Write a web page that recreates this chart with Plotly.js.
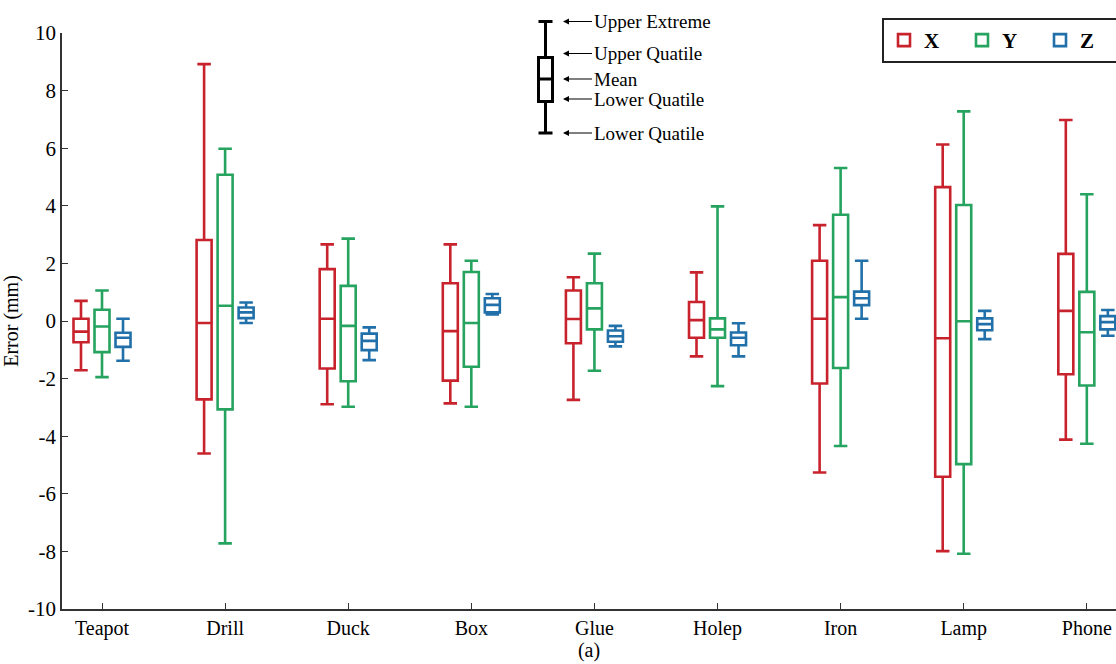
<!DOCTYPE html>
<html>
<head>
<meta charset="utf-8">
<script src="https://cdn.plot.ly/plotly-3.0.1.min.js"></script>
<style>
  html, body { margin: 0; padding: 0; background: #ffffff; }
  #chart { width: 1116px; height: 664px; }
</style>
</head>
<body>
<div id="chart"></div>
<script>
// ---- data ----
const categories = ['Teapot', 'Drill', 'Duck', 'Box', 'Glue', 'Holep', 'Iron', 'Lamp', 'Phone'];
const seriesNames = ['X', 'Y', 'Z'];

const xLower  = [-1.71, -4.60, -2.89, -2.86, -2.74, -1.23, -5.26, -7.99, -4.12];
const xQ1     = [-0.74, -2.72, -1.65, -2.07, -0.77, -0.58, -2.17, -5.41, -1.85];
const xMedian = [-0.37, -0.07,  0.08, -0.35,  0.07,  0.03,  0.08, -0.60,  0.35];
const xQ3     = [ 0.08,  2.81,  1.80,  1.31,  1.06,  0.66,  2.09,  4.65,  2.33];
const xUpper  = [ 0.70,  8.92,  2.66,  2.66,  1.52,  1.69,  3.33,  6.13,  6.98];

const yLower  = [-1.95, -7.72, -2.98, -2.98, -1.73, -2.26, -4.34, -8.08, -4.26];
const yQ1     = [-1.08, -3.07, -2.09, -1.59, -0.29, -0.58, -1.63, -4.97, -2.24];
const yMedian = [-0.19,  0.53, -0.17, -0.07,  0.44, -0.29,  0.83, -0.01, -0.39];
const yQ3     = [ 0.39,  5.08,  1.22,  1.70,  1.31,  0.09,  3.69,  4.03,  1.01];
const yUpper  = [ 1.06,  5.98,  2.86,  2.09,  2.34,  3.98,  5.31,  7.28,  4.40];

const zLower  = [-1.38, -0.07, -1.36,  0.23, -0.88, -1.23,  0.08, -0.63, -0.51];
const zQ1     = [-0.90,  0.10, -1.01,  0.30, -0.72, -0.84,  0.55, -0.32, -0.29];
const zMedian = [-0.58,  0.30, -0.69,  0.56, -0.53, -0.58,  0.79, -0.11, -0.04];
const zQ3     = [-0.41,  0.47, -0.44,  0.79, -0.33, -0.40,  1.02,  0.09,  0.17];
const zUpper  = [ 0.08,  0.64, -0.22,  0.94, -0.17, -0.08,  2.09,  0.35,  0.38];

const yTickVals = [-10, -8, -6, -4, -2, 0, 2, 4, 6, 8, 10];
const yTickText = yTickVals.map(v => String(v));   // ASCII hyphen minus, as in the reference
const keyLabels = ['Upper Extreme', 'Upper Quatile', 'Mean', 'Lower Quatile', 'Lower Quatile'];

// ---- styles ----
const colors = ['#C8232C', '#25A35F', '#2170AA'];
const FONT = 'Liberation Serif, Times New Roman, serif';

const stats = [
  [xLower, xQ1, xMedian, xQ3, xUpper],
  [yLower, yQ1, yMedian, yQ3, yUpper],
  [zLower, zQ1, zMedian, zQ3, zUpper]
];

const traces = seriesNames.map((name, i) => ({
  type: 'box',
  name: name,
  x: categories,
  lowerfence: stats[i][0],
  q1: stats[i][1],
  median: stats[i][2],
  q3: stats[i][3],
  upperfence: stats[i][4],
  boxpoints: false,
  whiskerwidth: 0.9,
  line: { color: colors[i], width: 2.6 },
  fillcolor: 'rgba(255,255,255,0)',
  hoverinfo: 'y'
}));

// ---- explanatory key (paper coordinates) ----
const px2x = p => (p - 62) / 1054;
const px2y = p => (609 - p) / 576;
const keyX0 = px2x(538.5), keyX1 = px2x(552.5), keyXc = px2x(545.5);
const keyCapTop = px2y(21.5), keyBoxTop = px2y(57.5), keyMean = px2y(79),
      keyBoxBot = px2y(101.5), keyCapBot = px2y(133);
const keyLine = { color: '#000000', width: 3 };
const shapes = [
  { type: 'line', xref: 'paper', yref: 'paper', x0: keyX0, x1: keyX1, y0: keyCapTop, y1: keyCapTop, line: keyLine },
  { type: 'line', xref: 'paper', yref: 'paper', x0: keyXc, x1: keyXc, y0: keyCapTop, y1: keyBoxTop, line: keyLine },
  { type: 'rect', xref: 'paper', yref: 'paper', x0: keyX0, x1: keyX1, y0: keyBoxBot, y1: keyBoxTop, line: keyLine, fillcolor: 'rgba(0,0,0,0)' },
  { type: 'line', xref: 'paper', yref: 'paper', x0: keyX0, x1: keyX1, y0: keyMean, y1: keyMean, line: keyLine },
  { type: 'line', xref: 'paper', yref: 'paper', x0: keyXc, x1: keyXc, y0: keyBoxBot, y1: keyCapBot, line: keyLine },
  { type: 'line', xref: 'paper', yref: 'paper', x0: keyX0, x1: keyX1, y0: keyCapBot, y1: keyCapBot, line: keyLine }
];
const keyArrowY = [px2y(21.5), px2y(53.5), px2y(79), px2y(99), px2y(133)];
const annotations = keyLabels.map((t, i) => ({
  xref: 'paper', yref: 'paper',
  x: px2x(563), y: keyArrowY[i],
  ax: 29, ay: 0,
  xanchor: 'left', yanchor: 'middle',
  text: t,
  showarrow: true,
  arrowhead: 2, arrowsize: 1, arrowwidth: 1.2, arrowcolor: '#000000',
  font: { family: FONT, size: 19, color: '#000000' }
}));

const layout = {
  width: 1116,
  height: 664,
  margin: { l: 62, r: 0, t: 33, b: 55, autoexpand: false },
  paper_bgcolor: '#ffffff',
  plot_bgcolor: '#ffffff',
  font: { family: FONT, size: 20, color: '#000000' },
  boxmode: 'group',
  boxgap: 0.488,
  boxgroupgap: 0.286,
  showlegend: true,
  legend: {
    orientation: 'h',
    x: px2x(882), y: px2y(18),
    xanchor: 'left', yanchor: 'top',
    bgcolor: '#ffffff',
    bordercolor: '#222222',
    borderwidth: 2,
    itemwidth: 30,
    entrywidthmode: 'pixels',
    entrywidth: 33,
    font: { family: FONT, size: 21, color: '#000000', weight: 'bold' }
  },
  xaxis: {
    type: 'category',
    range: [-0.325, 8.237],
    showline: true, linecolor: '#333333', linewidth: 1.5,
    ticks: 'inside', ticklen: 6, tickcolor: '#333333', tickwidth: 1,
    showgrid: false, zeroline: false,
    tickfont: { family: FONT, size: 20, color: '#000000' },
    title: { text: '(a)', font: { family: FONT, size: 20, color: '#000000' }, standoff: 4 }
  },
  yaxis: {
    range: [-10, 10],
    tickmode: 'array',
    tickvals: yTickVals,
    ticktext: yTickText,
    showline: true, linecolor: '#333333', linewidth: 1.5,
    ticks: 'inside', ticklen: 6, tickcolor: '#333333', tickwidth: 1,
    showgrid: false, zeroline: false,
    tickfont: { family: FONT, size: 21, color: '#000000' },
    title: { text: 'Error (mm)', font: { family: FONT, size: 20, color: '#000000' }, standoff: 8 }
  },
  shapes: shapes,
  annotations: annotations
};

Plotly.newPlot('chart', traces, layout, { displayModeBar: false, responsive: false });
</script>
</body>
</html>
